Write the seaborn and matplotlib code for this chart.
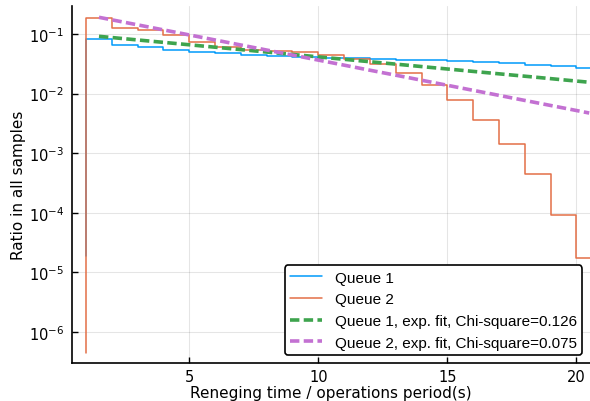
import numpy as np
import pandas as pd
import matplotlib
matplotlib.use("Agg")
import matplotlib.pyplot as plt
import seaborn as sns
from matplotlib.lines import Line2D

# bins are one period wide, from 1 to 21
bin_edges = list(range(1, 22))
fit_x = [k + 0.5 for k in range(1, 21)]

queue1_ratio = [0.0840, 0.0654, 0.0612, 0.0546, 0.0505, 0.0475, 0.0448, 0.0428, 0.0416, 0.0403,
                0.0393, 0.0384, 0.0373, 0.0366, 0.0356, 0.0335, 0.0322, 0.0305, 0.0290, 0.0272]
queue2_ratio = [0.1855, 0.1276, 0.1153, 0.0973, 0.0743, 0.0605, 0.0546, 0.0525, 0.0490, 0.0441,
                0.0381, 0.0310, 0.0222, 0.0139, 0.00781, 0.00365, 0.00144, 0.000448, 9.19e-5, 1.77e-5]
# where the step outline starts on the log axis
queue1_base = 1.9e-5
queue2_base = 4.4e-7

queue1_fit = [0.0914, 0.0832, 0.0758, 0.0691, 0.0629, 0.0573, 0.0522, 0.0475, 0.0433, 0.0394,
              0.0359, 0.0327, 0.0298, 0.0271, 0.0247, 0.0225, 0.0205, 0.0187, 0.0170, 0.0155]
queue2_fit = [0.1905, 0.1568, 0.1291, 0.1063, 0.0875, 0.0720, 0.0593, 0.0488, 0.0402, 0.0331,
              0.0272, 0.0224, 0.0185, 0.0152, 0.0125, 0.0103, 0.00847, 0.00697, 0.00574, 0.00472]

labels = ["Queue 1", "Queue 2",
          "Queue 1, exp. fit, Chi-square=0.126",
          "Queue 2, exp. fit, Chi-square=0.075"]
colors = ["#009AFA", "#E36F47", "#3EA44E", "#C371D2"]

sns.set_theme(style="ticks")
plt.rcParams['font.family'] = ['DejaVu Sans']
plt.rcParams['text.color'] = 'black'
plt.rcParams['axes.labelcolor'] = 'black'


def step_frame(values, base):
    xs = [bin_edges[0]] + bin_edges
    ys = [base] + values + [values[-1]]
    return pd.DataFrame({"x": xs, "y": ys})


fig = plt.figure(figsize=(5.9, 4.02), dpi=100)
ax = fig.add_axes([0.1225, 0.0938, 0.8775, 0.8881])

for vals, base, c in [(queue1_ratio, queue1_base, colors[0]), (queue2_ratio, queue2_base, colors[1])]:
    sns.lineplot(data=step_frame(vals, base), x="x", y="y", ax=ax, color=c, lw=1.1,
                 drawstyle="steps-post", estimator=None, sort=False)

for vals, c in [(queue1_fit, colors[2]), (queue2_fit, colors[3])]:
    sns.lineplot(x=fit_x, y=vals, ax=ax, color=c, lw=2.6, dashes=False,
                 estimator=None, sort=False).lines[-1].set_dashes((2.6, 1.2))

ax.set_yscale("log")
ax.set_xlim(0.465, 20.53)
ax.set_ylim(10 ** -6.525, 10 ** -0.535)
ax.set_xticks([5, 10, 15, 20])
ax.set_yticks([1e-6, 1e-5, 1e-4, 1e-3, 1e-2, 1e-1])
ax.minorticks_off()
ax.grid(True, color="black", alpha=0.1, lw=0.8)
ax.tick_params(direction="in", length=4, width=1, labelsize=10.5, pad=6, colors="black")
ax.tick_params(axis="x", pad=4)
for s in ["top", "right"]:
    ax.spines[s].set_visible(False)
for s in ["left", "bottom"]:
    ax.spines[s].set_color("black")
    ax.spines[s].set_linewidth(1.2)

ax.set_xlabel("Reneging time / operations period(s)", fontsize=11, labelpad=1, color="black")
ax.set_ylabel("Ratio in all samples", fontsize=11, labelpad=2, color="black")

handles = [Line2D([], [], color=colors[0], lw=1.1),
           Line2D([], [], color=colors[1], lw=1.1),
           Line2D([], [], color=colors[2], lw=2.6, dashes=(2.6, 1.2)),
           Line2D([], [], color=colors[3], lw=2.6, dashes=(2.6, 1.2))]
leg = ax.legend(handles, labels, loc="lower right", bbox_to_anchor=(0.9845, 0.023),
                borderaxespad=0, fancybox=True, framealpha=1, edgecolor="black",
                prop={"family": "Liberation Sans", "size": 11}, labelcolor="black",
                handlelength=2.1, handletextpad=0.8, labelspacing=0.5, borderpad=0.35)
leg.get_frame().set_linewidth(1.2)

fig.savefig("out.png", dpi=100)
